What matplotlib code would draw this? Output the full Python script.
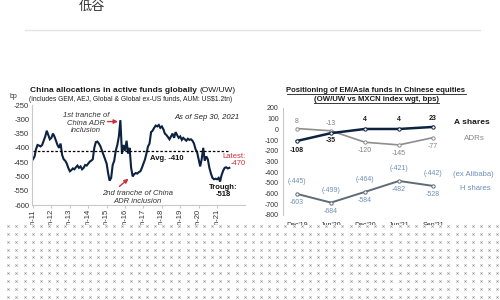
import numpy as np
import pandas as pd
import matplotlib
matplotlib.use('Agg')
import matplotlib.pyplot as plt
import matplotlib.dates as mdates
from matplotlib.lines import Line2D
from matplotlib.patches import Rectangle

plt.rcParams['font.family'] = ['Liberation Sans', 'Noto Sans CJK SC']

# left chart: monthly China OW/UW in active funds (bp)
months = pd.date_range('2011-01-01', '2021-09-01', freq='MS')
china_owuw = [
    -440, -430, -405, -390, -392, -395, -390, -375, -360, -340, -355, -370,   # 2011
    -365, -350, -360, -375, -390, -400, -385, -425, -440, -445, -455, -470,   # 2012
    -482, -478, -472, -475, -468, -462, -470, -465, -475, -470, -460, -462,   # 2013
    -455, -448, -445, -440, -400, -380, -378, -385, -395, -410, -425, -440,   # 2014
    -455, -490, -515, -505, -460, -445, -410, -390, -360, -303, -420, -390,   # 2015
    -410, -375, -420, -400, -470, -500, -492, -488, -490, -485, -482, -470,   # 2016
    -455, -440, -420, -395, -385, -345, -340, -330, -322, -325, -320, -330,   # 2017
    -325, -335, -350, -355, -362, -370, -360, -350, -365, -345, -355, -365,   # 2018
    -360, -372, -365, -370, -375, -368, -372, -370, -375, -385, -405, -415,   # 2019
    -440, -465, -440, -400, -445, -430, -440, -470, -490, -505, -510, -508,   # 2020
    -510, -505, -518, -495, -480, -470, -468, -472, -470,                     # 2021
]
avg_owuw = -410
left_yticks = [-250, -300, -350, -400, -450, -500, -550, -600]
year_ticks = pd.date_range('2011-01-01', '2021-01-01', freq='YS')

# right chart: EM/Asia fund positioning
periods = ["Dec'19", "Jun'20", "Dec'20", "Jun'21", "Sep'21"]
a_shares = [-108, -35, 4, 4, 23]
adrs = [8, -13, -120, -145, -77]
h_shares = [-603, -684, -584, -482, -528]
h_ex_alibaba = [-445, -499, -464, -421, -442]
right_yticks = [200, 100, 0, -100, -200, -300, -400, -500, -600, -700, -800]

W, H = 500, 300


def px(x, y):
    '''pixel position -> figure fraction'''
    return x / W, 1 - y / H


fig = plt.figure(figsize=(5, 3), dpi=100)
fig.patch.set_facecolor('white')

navy = '#0d2240'
red = '#c8333a'
blue_lbl = '#6f8fb5'
grid_gray = '#c8c8c8'

# header remnants
fig.text(*px(92, 6), '低谷', fontsize=9.5, color='#333333', ha='center', va='center',
         family=['Noto Sans CJK SC', 'DejaVu Sans'])
fig.add_artist(Line2D([25 / W, 480 / W], [1 - 30 / H, 1 - 30 / H], color='#e4e4e4', lw=1))

# ---------------- left chart ----------------
ax1 = fig.add_axes([32 / W, 1 - 205 / H, 213 / W, 100 / H])
ax1.plot(months, china_owuw, color=navy, lw=1.5, solid_joinstyle='miter')
ax1.hlines(avg_owuw, months[0], months[-1], colors='black', linestyles=(0, (2, 1.5)), lw=0.9)
ax1.set_ylim(-600, -250)
ax1.set_xlim(pd.Timestamp('2010-12-12'), pd.Timestamp('2022-07-09'))
ax1.set_yticks(left_yticks)
ax1.set_yticklabels([str(v) for v in left_yticks])
ax1.set_xticks(year_ticks)
ax1.xaxis.set_major_formatter(mdates.DateFormatter('%b-%y'))
ax1.tick_params(axis='x', labelrotation=90, labelsize=5.5, colors='#333333', length=2, pad=1,
                color=grid_gray)
ax1.tick_params(axis='y', labelsize=5.5, colors='#333333', length=0, pad=2)
for s in ['top', 'right']:
    ax1.spines[s].set_visible(False)
for s in ['left', 'bottom']:
    ax1.spines[s].set_color(grid_gray)
    ax1.spines[s].set_linewidth(0.8)
ax1.set_facecolor('none')

arrow = dict(arrowstyle='-|>', color=red, lw=1, mutation_scale=6, shrinkA=0, shrinkB=0)
ax1.text(pd.Timestamp('2013-11-16'), -313, '1st tranche of\nChina ADR\ninclusion', style='italic',
         fontsize=5.5, color='#333333', ha='center', va='center', linespacing=1.05)
ax1.annotate('', xy=(pd.Timestamp('2015-08-15'), -308), xytext=(pd.Timestamp('2015-01-20'), -308),
             arrowprops=arrow)
ax1.text(pd.Timestamp('2016-09-12'), -574, '2nd tranche of China\nADR inclusion', style='italic',
         fontsize=5.5, color='#333333', ha='center', va='center', linespacing=1.05)
ax1.annotate('', xy=(pd.Timestamp('2016-03-10'), -508), xytext=(pd.Timestamp('2015-09-12'), -535),
             arrowprops=arrow)
ax1.text(pd.Timestamp('2020-06-17'), -292, 'As of Sep 30, 2021', style='italic', fontsize=5.5,
         color='#222222', ha='center', va='center')
ax1.text(pd.Timestamp('2018-04-12'), -437, 'Avg. -410', fontweight='bold', fontsize=5.5,
         color='#111111', ha='center', va='center')
ax1.text(pd.Timestamp('2022-07-30'), -442, 'Latest:\n-470', fontsize=5.5, color=red,
         ha='right', va='center', linespacing=1.0, multialignment='right')
ax1.text(pd.Timestamp('2021-05-01'), -551, 'Trough:\n-518', fontweight='bold', fontsize=5.5,
         color='#111111', ha='center', va='center', linespacing=1.0)

fig.text(*px(197, 90), 'China allocations in active funds globally', fontweight='bold',
         fontsize=6, color='#1a1a1a', ha='right', va='center')
fig.text(*px(199, 90), '(OW/UW)', fontsize=6, color='#1a1a1a', ha='left', va='center')
fig.text(*px(131, 100), '(includes GEM, AEJ, Global & Global ex-US funds, AUM: US$1.2tn)',
         fontsize=4.9, color='#222222', ha='center', va='center')
fig.text(*px(13, 96), 'bp', fontsize=5, color='#333333', ha='center', va='center')

# ---------------- right chart ----------------
ax2 = fig.add_axes([283 / W, 1 - 215 / H, 167 / W, 107 / H])
xs = np.arange(len(periods))
ax2.plot(xs, h_shares, color='#5f6b78', lw=1.4, marker='o', ms=2.4, mfc='white', mec='#5f6b78', mew=0.7)
ax2.plot(xs, adrs, color='#8e8e8e', lw=1.2, marker='o', ms=2.4, mfc='white', mec='#8e8e8e', mew=0.7)
ax2.plot(xs, a_shares, color=navy, lw=1.8, marker='o', ms=2.4, mfc='white', mec=navy, mew=0.7)
ax2.set_ylim(-800, 200)
ax2.set_xlim(-0.41, 4.5)
ax2.set_yticks(right_yticks)
ax2.set_yticklabels([str(v) for v in right_yticks])
ax2.set_xticks(xs)
ax2.set_xticklabels(periods)
ax2.tick_params(axis='y', labelsize=5, colors='#333333', length=0, pad=3)
ax2.tick_params(axis='x', labelsize=5, colors='#333333', length=0, pad=5)
for s in ['top', 'right', 'bottom']:
    ax2.spines[s].set_visible(False)
ax2.spines['left'].set_color(grid_gray)
ax2.spines['left'].set_linewidth(0.8)
ax2.set_facecolor('none')

a_off = [-10, -7, 9, 9, 8]
adr_off = [7, 7, -8, -9, -9]
for i in xs:
    ax2.annotate(str(a_shares[i]), (i, a_shares[i]), xytext=(0, a_off[i]), textcoords='offset pixels',
                 ha='center', va='center', fontsize=5, fontweight='bold', color='#1a1a1a')
    ax2.annotate(str(adrs[i]), (i, adrs[i]), xytext=(0, adr_off[i]), textcoords='offset pixels',
                 ha='center', va='center', fontsize=5, color='#808080')
    ax2.annotate(str(h_shares[i]), (i, h_shares[i]), xytext=(0, -9), textcoords='offset pixels',
                 ha='center', va='center', fontsize=5, color=blue_lbl)
    ax2.annotate('(%d)' % h_ex_alibaba[i], (i, h_shares[i]), xytext=(0, 12.5), textcoords='offset pixels',
                 ha='center', va='center', fontsize=5, color=blue_lbl)

fig.text(*px(472, 122), 'A shares', fontsize=6, fontweight='bold', color='#1a1a1a', ha='center', va='center')
fig.text(*px(474, 139), 'ADRs', fontsize=5.8, color='#8a8a8a', ha='center', va='center')
fig.text(*px(473, 174), '(ex Alibaba)', fontsize=5.5, color=blue_lbl, ha='center', va='center')
fig.text(*px(475, 188), 'H shares', fontsize=5.5, color=blue_lbl, ha='center', va='center')

t1 = fig.text(*px(376, 91), 'Positioning of EM/Asia funds in Chinese equities', fontsize=5.6,
              fontweight='bold', color='#1a1a1a', ha='center', va='center')
t2 = fig.text(*px(376, 100), '(OW/UW vs MXCN index wgt, bps)', fontsize=5.6,
              fontweight='bold', color='#1a1a1a', ha='center', va='center')
fig.canvas.draw()
inv = fig.transFigure.inverted()
for t in (t1, t2):
    bb = t.get_window_extent()
    (x0, y0), (x1, _) = inv.transform([(bb.x0, bb.y0 + 0.5), (bb.x1, bb.y0)])
    fig.add_artist(Line2D([x0, x1], [y0, y0], color='#1a1a1a', lw=0.6))

# dotted screen pattern covering the bottom of the screenshot
fig.add_artist(Rectangle((0, 0), 1, 1 - 224.5 / H, transform=fig.transFigure,
                         facecolor='white', edgecolor='none', zorder=10))
gx, gy = np.meshgrid(np.arange(8.3, W, 8.15), np.arange(226, H, 7.85))
fig.add_artist(Line2D(gx.ravel() / W, 1 - gy.ravel() / H, ls='none', marker='x', ms=1.6,
                      mew=0.5, color='#9a9a9a', zorder=11))

fig.savefig('out.png', dpi=100)
